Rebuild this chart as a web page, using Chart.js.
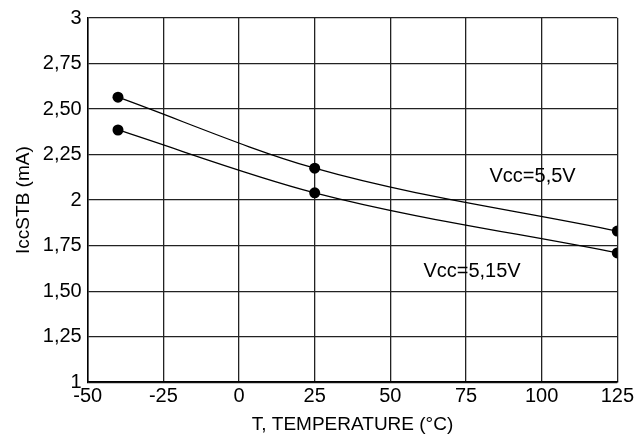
<!DOCTYPE html>
<html>
<head>
<meta charset="utf-8">
<script src="https://cdn.jsdelivr.net/npm/chart.js@4"></script>
<style>
  html, body { margin: 0; padding: 0; background: #fff; }
  #wrap { width: 636px; height: 440px; }
</style>
</head>
<body>
<div id="wrap"><canvas id="iccChart" width="636" height="440"></canvas></div>
<script>
// data
const temps = [-40, 25, 125];
const icc55 = [2.565, 2.175, 1.83];
const icc515 = [2.385, 2.04, 1.71];
const xTicks = [-50, -25, 0, 25, 50, 75, 100, 125];
const yTicks = [1, 1.25, 1.5, 1.75, 2, 2.25, 2.5, 2.75, 3];
const yTickLabels = ['1', '1,25', '1,50', '1,75', '2', '2,25', '2,50', '2,75', '3'];
const seriesNames = ['Vcc=5,5V', 'Vcc=5,15V'];
// label anchors in data units
const labelAt = [[97, 2.13], [77, 1.61]];

const FONT = '"Liberation Sans", Arial, sans-serif';

function toPoints(ys) {
    return temps.map((t, i) => ({ x: t, y: ys[i] }));
}

const seriesLabels = {
    id: 'seriesLabels',
    afterDatasetsDraw(chart) {
        const ctx = chart.ctx;
        const xs = chart.scales.x, ys = chart.scales.y;
        ctx.save();
        ctx.font = '20px ' + FONT;
        ctx.fillStyle = '#000';
        ctx.textAlign = 'center';
        ctx.textBaseline = 'middle';
        seriesNames.forEach((name, i) => {
            ctx.fillText(name, xs.getPixelForValue(labelAt[i][0]), ys.getPixelForValue(labelAt[i][1]));
        });
        ctx.restore();
    }
};

const lineStyle = {
    borderColor: '#000',
    borderWidth: 1.3,
    backgroundColor: '#000',
    pointRadius: 5.5,
    pointBackgroundColor: '#000',
    pointBorderWidth: 0,
    cubicInterpolationMode: 'monotone',
    fill: false
};

new Chart(document.getElementById('iccChart'), {
    type: 'scatter',
    data: {
        datasets: [
            Object.assign({ label: seriesNames[0], data: toPoints(icc55), showLine: true }, lineStyle),
            Object.assign({ label: seriesNames[1], data: toPoints(icc515), showLine: true }, lineStyle)
        ]
    },
    options: {
        responsive: false,
        animation: false,
        layout: { padding: { left: 12, right: 0, top: 6, bottom: 4 } },
        plugins: { legend: { display: false }, tooltip: { enabled: false } },
        scales: {
            x: {
                type: 'linear',
                min: -50, max: 125,
                afterBuildTicks: (axis) => { axis.ticks = xTicks.map(v => ({ value: v })); },
                ticks: { color: '#000', font: { size: 20, family: FONT }, padding: 2, maxRotation: 0 },
                grid: { color: '#222', lineWidth: 1.3, drawTicks: false },
                border: { color: '#000', width: 1.5 },
                title: { display: true, text: 'T, TEMPERATURE (°C)', color: '#000', font: { size: 19, family: FONT }, padding: { top: 3, bottom: 0 } }
            },
            y: {
                type: 'linear',
                min: 1, max: 3,
                afterBuildTicks: (axis) => { axis.ticks = yTicks.map(v => ({ value: v })); },
                ticks: {
                    color: '#000', font: { size: 20, family: FONT }, padding: 6,
                    callback: (v) => yTickLabels[yTicks.indexOf(v)]
                },
                grid: { color: '#222', lineWidth: 1.3, drawTicks: false },
                border: { color: '#000', width: 1.5 },
                title: { display: true, text: 'IccSTB (mA)', color: '#000', font: { size: 19, family: FONT }, padding: { top: 0, bottom: 2 } }
            }
        }
    },
    plugins: [seriesLabels]
});
</script>
</body>
</html>
